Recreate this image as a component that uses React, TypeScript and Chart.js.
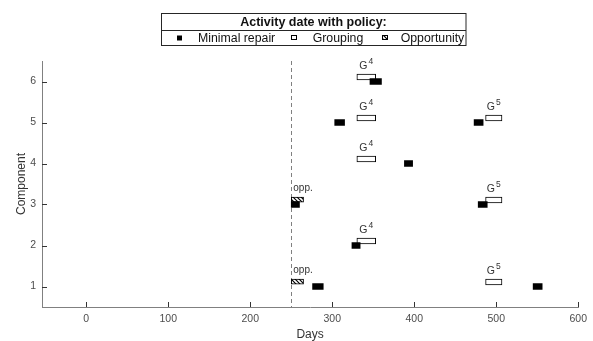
import React, { useEffect, useRef } from 'react';
import { Chart, registerables } from 'chart.js';
Chart.register(...registerables);

const components = [1, 2, 3, 4, 5, 6];
const xTicks = [0, 100, 200, 300, 400, 500, 600];
const xMin = -54;
const xMax = 600;
const policyDay = 250;

// Minimal repair activities: component, start day, end day
const repairComp = [6, 5, 5, 4, 3, 3, 2, 1, 1];
const repairStart = [346, 303, 473, 388, 250, 478, 324, 276, 545];
const repairEnd = [360, 315, 484, 398, 260, 489, 334, 289, 556];

// Grouping activities
const groupComp = [6, 5, 5, 4, 3, 2, 1];
const groupStart = [330, 330, 487, 330, 487, 330, 487];
const groupEnd = [353, 353, 507, 353, 507, 353, 507];
const groupLabel = ['4', '4', '5', '4', '5', '4', '5'];

// Opportunity activities
const oppComp = [3, 1];
const oppStart = [250, 250];
const oppEnd = [265, 265];
const oppLabel = ['opp.', 'opp.'];

const legendTitle = 'Activity date with policy:';
const legendItems = ['Minimal repair', 'Grouping', 'Opportunity'];

const FONT = "'Liberation Sans', Arial, sans-serif";

export default function App() {
  const ref = useRef<HTMLCanvasElement>(null);
  useEffect(() => {
    document.body.style.margin = '0';
    const canvas = ref.current!;
    const pc = document.createElement('canvas');
    pc.width = 4;
    pc.height = 4;
    const p = pc.getContext('2d')!;
    p.fillStyle = '#fff';
    p.fillRect(0, 0, 4, 4);
    p.strokeStyle = '#000';
    p.lineWidth = 1.2;
    p.beginPath();
    p.moveTo(0, 0); p.lineTo(4, 4);
    p.moveTo(-1, 3); p.lineTo(1, 5);
    p.moveTo(3, -1); p.lineTo(5, 1);
    p.stroke();
    const hatch = canvas.getContext('2d')!.createPattern(pc, 'repeat')!;

    const dashPlugin = {
      id: 'dash',
      beforeDatasetsDraw(chart: any) {
        const { ctx, chartArea, scales } = chart;
        const x = Math.round(scales.x.getPixelForValue(policyDay)) + 0.5;
        ctx.save();
        ctx.strokeStyle = '#808080';
        ctx.lineWidth = 1;
        ctx.setLineDash([4, 3]);
        ctx.beginPath();
        ctx.moveTo(x, chartArea.top);
        ctx.lineTo(x, chartArea.bottom);
        ctx.stroke();
        ctx.restore();
      },
    };

    const annotPlugin = {
      id: 'annot',
      afterDraw(chart: any) {
        const { ctx, chartArea, scales } = chart;
        const xs = scales.x, ys = scales.y;
        ctx.save();
        // inward tick marks
        ctx.strokeStyle = '#333';
        ctx.lineWidth = 1;
        ctx.beginPath();
        xTicks.forEach((v) => {
          const x = Math.round(xs.getPixelForValue(v)) + 0.5;
          ctx.moveTo(x, chartArea.bottom);
          ctx.lineTo(x, chartArea.bottom - 5);
        });
        components.forEach((v) => {
          const y = Math.round(ys.getPixelForValue(v)) + 0.5;
          ctx.moveTo(chartArea.left, y);
          ctx.lineTo(chartArea.left + 5, y);
        });
        ctx.stroke();

        // G labels
        ctx.fillStyle = '#333';
        ctx.textBaseline = 'middle';
        groupComp.forEach((c, i) => {
          const cx = xs.getPixelForValue((groupStart[i] + groupEnd[i]) / 2);
          const cy = ys.getPixelForValue(c) - 15;
          ctx.font = `10.5px ${FONT}`;
          const gw = ctx.measureText('G').width;
          ctx.font = `8.5px ${FONT}`;
          const sw = ctx.measureText(groupLabel[i]).width;
          const x0 = cx - (gw + 1 + sw) / 2;
          ctx.font = `10.5px ${FONT}`;
          ctx.textAlign = 'left';
          ctx.fillText('G', x0, cy);
          ctx.font = `8.5px ${FONT}`;
          ctx.fillText(groupLabel[i], x0 + gw + 1, cy - 5);
        });
        // opp labels
        ctx.font = `10px ${FONT}`;
        ctx.textAlign = 'left';
        oppComp.forEach((c, i) => {
          const x = xs.getPixelForValue(oppStart[i]) + 2;
          const y = ys.getPixelForValue(c) - 16;
          ctx.fillText(oppLabel[i], x, y);
        });

        // legend
        ctx.strokeStyle = '#262626';
        ctx.lineWidth = 1;
        ctx.fillStyle = '#fff';
        ctx.fillRect(161.5, 13.5, 304.5, 32);
        ctx.strokeRect(161.5, 13.5, 304.5, 32);
        ctx.beginPath();
        ctx.moveTo(161.5, 30.5);
        ctx.lineTo(466, 30.5);
        ctx.stroke();
        ctx.fillStyle = '#111';
        ctx.font = `bold 12.5px ${FONT}`;
        ctx.textAlign = 'center';
        ctx.fillText(legendTitle, 313.5, 22.5);
        ctx.font = `12.3px ${FONT}`;
        ctx.textAlign = 'left';
        ctx.fillText(legendItems[0], 198, 38.5);
        ctx.fillText(legendItems[1], 312.7, 38.5);
        ctx.fillText(legendItems[2], 400.7, 38.5);
        ctx.fillStyle = '#000';
        ctx.fillRect(177, 35.5, 5, 5);
        ctx.fillStyle = '#fff';
        ctx.fillRect(291.5, 35.5, 5, 4);
        ctx.strokeStyle = '#000';
        ctx.strokeRect(291.5, 35.5, 5, 4);
        ctx.fillStyle = hatch;
        ctx.fillRect(382.5, 35.5, 5, 4);
        ctx.strokeRect(382.5, 35.5, 5, 4);
        ctx.restore();
      },
    };

    const chart = new Chart(canvas, {
      type: 'bar',
      data: {
        datasets: [
          {
            label: legendItems[0],
            data: repairComp.map((c, i) => ({ y: c, x: [repairStart[i], repairEnd[i]] })) as any,
            backgroundColor: '#000',
            borderWidth: 0,
            barThickness: 6,
            grouped: false,
          } as any,
          {
            label: legendItems[1],
            data: groupComp.map((c, i) => ({ y: c + 0.11, x: [groupStart[i], groupEnd[i]] })) as any,
            backgroundColor: '#fff',
            borderColor: '#000',
            borderWidth: 1,
            borderSkipped: false,
            barThickness: 6,
            grouped: false,
          } as any,
          {
            label: legendItems[2],
            data: oppComp.map((c, i) => ({ y: c + 0.12, x: [oppStart[i], oppEnd[i]] })) as any,
            backgroundColor: hatch,
            borderColor: '#000',
            borderWidth: 1,
            borderSkipped: false,
            barThickness: 5,
            grouped: false,
          } as any,
        ],
      },
      options: {
        indexAxis: 'y',
        animation: false,
        responsive: false,
        events: [],
        layout: { padding: { left: 0, top: 61, right: 9, bottom: 0 } },
        plugins: { legend: { display: false }, tooltip: { enabled: false } },
        scales: {
          x: {
            type: 'linear',
            min: xMin,
            max: xMax,
            afterBuildTicks: (s: any) => { s.ticks = xTicks.map((v) => ({ value: v })); },
            afterFit: (s: any) => { s.height = 34; },
            grid: { display: false, drawTicks: false },
            border: { display: true, color: '#808080', width: 1 },
            ticks: {
              color: '#4d4d4d',
              font: { size: 10.5, family: FONT },
              padding: 6,
              maxRotation: 0,
              autoSkip: false,
            },
            title: {
              display: true,
              text: 'Days',
              color: '#333',
              font: { size: 12, family: FONT, lineHeight: 1 },
              padding: 0,
            },
          },
          y: {
            type: 'linear',
            min: 0.5,
            max: 6.5,
            offset: false,
            afterBuildTicks: (s: any) => { s.ticks = components.map((v) => ({ value: v })); },
            afterFit: (s: any) => { s.width = 42; },
            grid: { display: false, drawTicks: false },
            border: { display: true, color: '#808080', width: 1 },
            ticks: {
              color: '#4d4d4d',
              font: { size: 10.5, family: FONT },
              padding: 6,
              autoSkip: false,
            },
            title: {
              display: true,
              text: 'Component',
              color: '#333',
              font: { size: 12, family: FONT },
              padding: { top: 14.5, bottom: 0 },
            },
          },
        },
      } as any,
      plugins: [dashPlugin, annotPlugin],
    });
    return () => chart.destroy();
  }, []);

  return (
    <div style={{ width: 593, height: 341, position: 'relative', background: '#fff' }}>
      <canvas ref={ref} width={593} height={341} style={{ display: 'block' }} />
    </div>
  );
}
